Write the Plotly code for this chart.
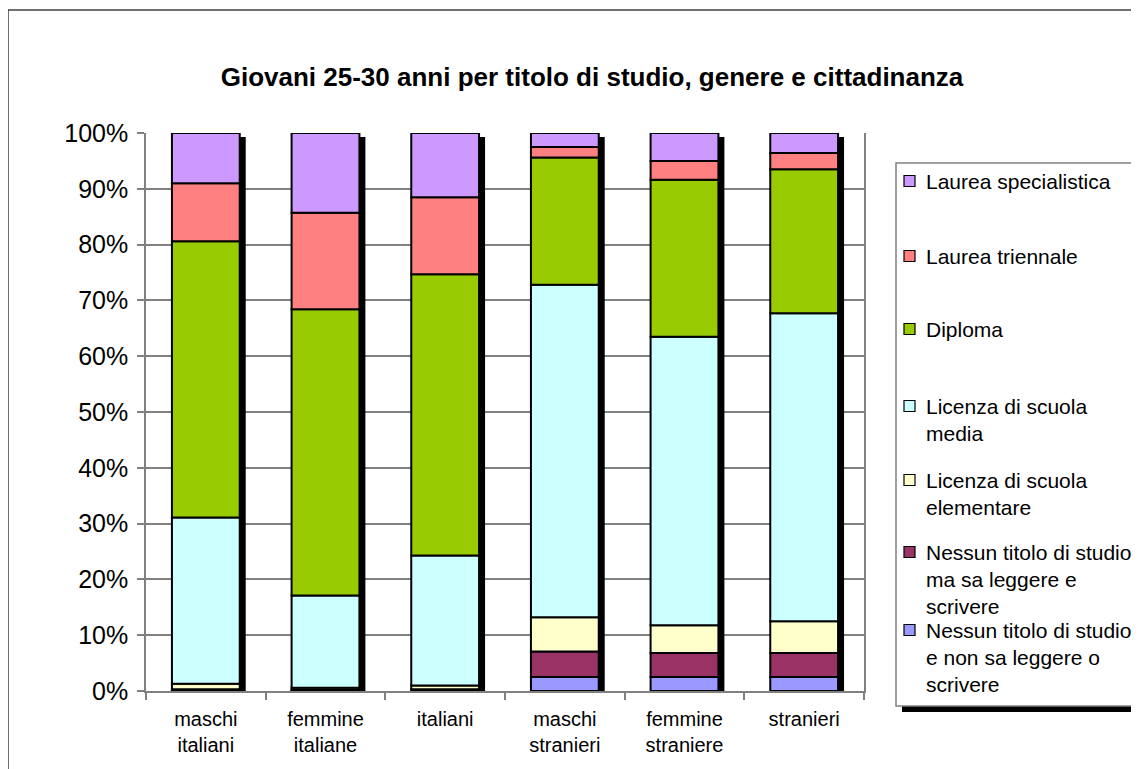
import numpy as np
import plotly.graph_objects as go

# categorie (asse x) e serie, dal basso verso l'alto
categorie = ["maschi<br>italiani", "femmine<br>italiane", "italiani",
             "maschi<br>stranieri", "femmine<br>straniere", "stranieri"]

serie = [
    "Nessun titolo di studio<br>e non sa leggere o<br>scrivere",
    "Nessun titolo di studio,<br>ma sa leggere e<br>scrivere",
    "Licenza di scuola<br>elementare",
    "Licenza di scuola<br>media",
    "Diploma",
    "Laurea triennale",
    "Laurea specialistica",
]

nessun_non_sa = [0.1, 0.1, 0.1, 2.5, 2.5, 2.5]
nessun_sa = [0.2, 0.1, 0.2, 4.6, 4.3, 4.3]
elementare = [1.0, 0.4, 0.7, 6.1, 5.0, 5.7]
media = [29.8, 16.5, 23.3, 59.6, 51.7, 55.2]
diploma = [49.5, 51.3, 50.4, 22.8, 28.1, 25.8]
triennale = [10.4, 17.3, 13.8, 1.9, 3.4, 2.9]
specialistica = [9.0, 14.3, 11.5, 2.5, 5.0, 3.6]

valori = [nessun_non_sa, nessun_sa, elementare, media, diploma, triennale, specialistica]
colori = ["#9999FF", "#993366", "#FFFFCC", "#CCFFFF", "#99CC00", "#FF8080", "#CC99FF"]

FONT = "Liberation Sans, Arial, sans-serif"
OFF = 8  # margine del body nella pagina html
W, H = 1139 - OFF, 769 - OFF
# area del grafico in pixel dello schermo
L, R, T, B = 146, 864, 133, 691

def px_x(px):
    return (px - L) / (R - L)

def px_y(py):
    return (B - py) / (B - T)

larg = 68 / 120
fig = go.Figure()

# ombra delle barre
fig.add_trace(go.Bar(
    x=categorie, y=[100] * len(categorie), base=-0.7,
    width=larg, offset=-larg / 2 + 0.05,
    marker=dict(color="black", line=dict(width=0)),
    showlegend=False, hoverinfo="skip",
))

basi = np.zeros(len(categorie))
for nome, v, c in zip(serie, valori, colori):
    fig.add_trace(go.Bar(
        x=categorie, y=v, base=basi.copy(), name=nome.replace("<br>", " "),
        width=larg, offset=-larg / 2,
        marker=dict(color=c, line=dict(color="black", width=2)),
        showlegend=False,
    ))
    basi += np.array(v)

shapes = []
annotations = []

# cornice del grafico
shapes.append(dict(type="rect", xref="paper", yref="paper",
                   x0=px_x(8), x1=px_x(1200), y0=px_y(10), y1=px_y(800),
                   line=dict(color="#404040", width=1.5), layer="below"))

# legenda disegnata a mano (stile Excel)
lx0, ly0, ly1 = 896, 163, 706
shapes.append(dict(type="rect", xref="paper", yref="paper",
                   x0=px_x(lx0 + 6), x1=px_x(1200), y0=px_y(ly0 + 6), y1=px_y(ly1 + 6),
                   fillcolor="black", line=dict(width=0)))
shapes.append(dict(type="rect", xref="paper", yref="paper",
                   x0=px_x(lx0), x1=px_x(1200), y0=px_y(ly0), y1=px_y(ly1),
                   fillcolor="white", line=dict(color="#808080", width=1.5)))

righe_y = [630, 552, 480, 406, 329, 256, 181]
passo = 27
for nome, c, yc in zip(serie, colori, righe_y):
    shapes.append(dict(type="rect", xref="paper", yref="paper",
                       x0=px_x(904), x1=px_x(915), y0=px_y(yc - 5.5), y1=px_y(yc + 5.5),
                       fillcolor=c, line=dict(color="black", width=1.2)))
    for i, riga in enumerate(nome.split("<br>")):
        annotations.append(dict(
            xref="paper", yref="paper", x=px_x(924), y=px_y(yc + i * passo),
            xanchor="left", yanchor="middle", text=riga, showarrow=False,
            font=dict(family=FONT, size=21, color="black"),
        ))

fig.update_layout(
    width=W, height=H,
    margin=dict(l=L - OFF, r=W - (R - OFF), t=T - OFF, b=H - (B - OFF)),
    barmode="overlay",
    plot_bgcolor="white", paper_bgcolor="white",
    font=dict(family=FONT, size=20, color="black"),
    title=dict(text="<b>Giovani 25-30 anni per titolo di studio, genere e cittadinanza</b>",
               x=(592 - OFF) / W, xref="container", xanchor="center",
               y=1 - (77 - OFF) / H, yref="container", yanchor="middle",
               font=dict(family=FONT, size=26, color="black")),
    shapes=shapes,
    annotations=annotations,
    xaxis=dict(showgrid=False, showline=True, linecolor="#808080", linewidth=1.5,
               ticks="outside", tickson="boundaries", ticklen=7, tickcolor="#808080",
               tickwidth=1.5, tickfont=dict(size=20), ticklabelstandoff=9),
    yaxis=dict(range=[0, 100], dtick=10, ticksuffix="%", showgrid=True,
               gridcolor="#808080", gridwidth=1.5, showline=True, mirror=True,
               linecolor="#808080", linewidth=1.5, ticks="outside", ticklen=7,
               tickcolor="#808080", tickwidth=1.5, tickfont=dict(size=25),
               ticklabelstandoff=4, zeroline=False),
)

fig.write_html("out.html")
